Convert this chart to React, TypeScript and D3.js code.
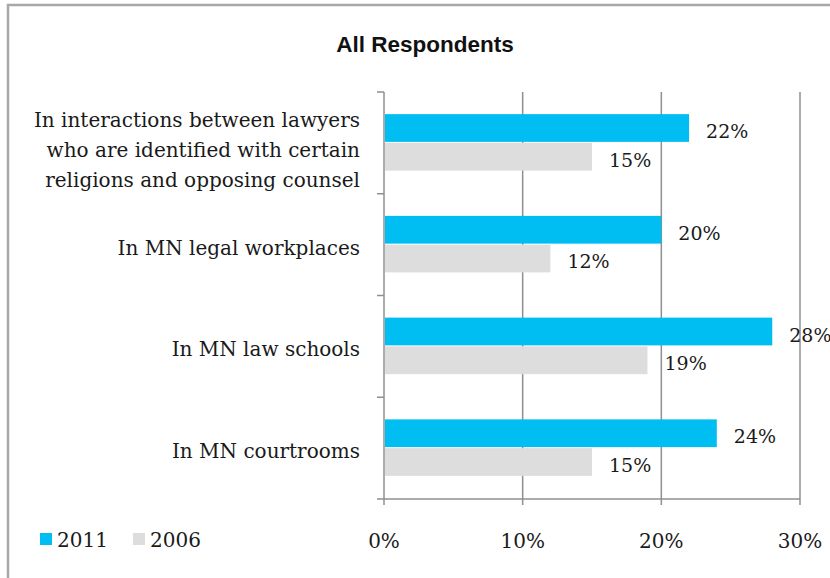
import * as d3 from "d3";
import React from "react";

// chart data
const categories = [
  "In interactions between lawyers|who are identified with certain|religions and opposing counsel",
  "In MN legal workplaces",
  "In MN law schools",
  "In MN courtrooms",
];
const series = ["2011", "2006"];
const values2011 = [22, 20, 28, 24];
const values2006 = [15, 12, 19, 15];
const xTicks = [0, 10, 20, 30];
const colors = ["#00bdf2", "#dddddd"];

const W = 830;
const H = 578;
const serif = "'DejaVu Serif', serif";

export default function App() {
  const x = d3.scaleLinear().domain([0, 30]).range([384, 800]);
  const y = d3.scaleBand().domain(categories).range([92, 499]).paddingInner(0).paddingOuter(0);
  const groupH = y.bandwidth() * 0.565;
  const ySub = d3.scaleBand().domain(series).range([0, groupH]);
  const valuesBySeries = [values2011, values2006];
  const boundaries = [...categories.map((c) => y(c)!), 499];

  return (
    <svg width={W} height={H} style={{ position: "absolute", left: 0, top: 0, background: "#fff" }}>
      <rect x={8} y={5} width={900} height={700} fill="#fff" stroke="#a8a8a8" strokeWidth={2.5} />
      <text
        x={425}
        y={52}
        textAnchor="middle"
        fontFamily="'Liberation Sans', Arial, sans-serif"
        fontWeight="bold"
        fontSize={22.5}
        fill="#111"
      >
        All Respondents
      </text>

      {/* gridlines */}
      {xTicks.map((t) => (
        <line key={"g" + t} x1={x(t)} x2={x(t)} y1={92} y2={505} stroke="#8f8f8f" strokeWidth={1.5} />
      ))}
      {/* category ticks */}
      {boundaries.map((b, i) => (
        <line key={"yt" + i} x1={377} x2={384} y1={b} y2={b} stroke="#8f8f8f" strokeWidth={1.5} />
      ))}
      <line x1={384} x2={800} y1={499} y2={499} stroke="#8f8f8f" strokeWidth={1.5} />

      {/* bars */}
      {categories.map((c, ci) => {
        const top = y(c)! + (y.bandwidth() - groupH) / 2;
        return series.map((s, si) => {
          const v = valuesBySeries[si][ci];
          const by = top + ySub(s)!;
          const bh = ySub.bandwidth() - 1;
          return (
            <g key={c + s}>
              <rect x={x(0) + 1} y={by} width={x(v) - x(0) - 1} height={bh} fill={colors[si]} />
              <text
                x={x(v) + 17}
                y={by + bh / 2 + 3}
                dominantBaseline="central"
                fontFamily={serif}
                fontSize={19}
                fill="#1a1a1a"
              >
                {v}%
              </text>
            </g>
          );
        });
      })}

      {/* category labels */}
      {categories.map((c) => {
        const lines = c.split("|");
        const mid = y(c)! + y.bandwidth() / 2 + (lines.length > 1 ? 7 : 3);
        return lines.map((l, li) => (
          <text
            key={c + li}
            x={360}
            y={mid + (li - (lines.length - 1) / 2) * 30}
            textAnchor="end"
            dominantBaseline="central"
            fontFamily={serif}
            fontSize={20}
            fill="#1a1a1a"
          >
            {l}
          </text>
        ));
      })}

      {/* x tick labels */}
      {xTicks.map((t) => (
        <text
          key={"xl" + t}
          x={x(t)}
          y={541}
          textAnchor="middle"
          dominantBaseline="central"
          fontFamily={serif}
          fontSize={20}
          fill="#1a1a1a"
        >
          {t}%
        </text>
      ))}

      {/* legend */}
      {series.map((s, i) => {
        const lx = i === 0 ? 40 : 133;
        return (
          <g key={"lg" + s}>
            <rect x={lx} y={533} width={12} height={12} fill={colors[i]} />
            <text x={lx + 17} y={540} dominantBaseline="central" fontFamily={serif} fontSize={20} fill="#1a1a1a">
              {s}
            </text>
          </g>
        );
      })}
    </svg>
  );
}
